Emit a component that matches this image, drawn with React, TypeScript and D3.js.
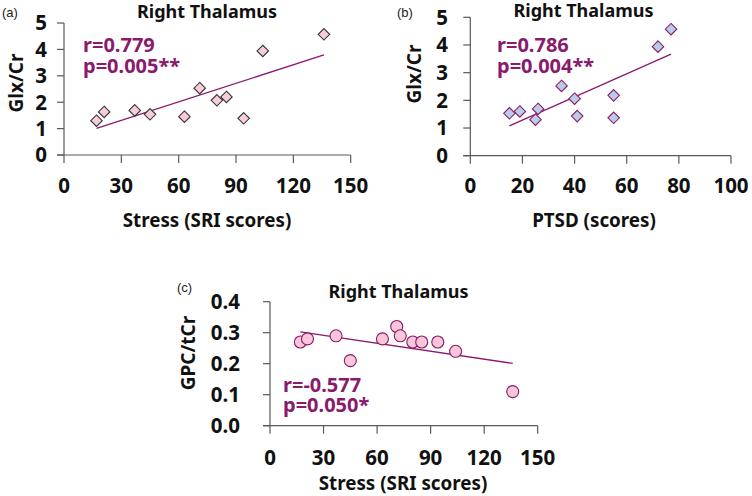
import React from "react";
import * as d3 from "d3";

// ---- Data ----
const stressA = [17, 21, 37, 45, 63, 71, 80, 85, 94, 104, 136];
const glxA = [1.3, 1.63, 1.69, 1.54, 1.45, 2.53, 2.07, 2.2, 1.39, 3.94, 4.57];
const fitA = [[17, 1.01], [136, 3.79]];

const ptsdB = [15, 19, 25, 26, 35, 40, 41, 55, 55, 72, 77];
const glxB = [1.53, 1.6, 1.3, 1.69, 2.52, 2.06, 1.43, 2.18, 1.37, 3.94, 4.57];
const fitB = [[15, 1.08], [77, 3.67]];

const stressC = [17, 21, 37, 45, 63, 71, 73, 80, 85, 94, 104, 136];
const gpcC = [0.27, 0.28, 0.29, 0.21, 0.28, 0.32, 0.29, 0.27, 0.27, 0.27, 0.24, 0.11];
const fitC = [[17, 0.303], [136, 0.201]];

const xTicksStress = [0, 30, 60, 90, 120, 150];
const xTicksPtsd = [0, 20, 40, 60, 80, 100];
const yTicksGlx = [0, 1, 2, 3, 4, 5];
const yTicksGpc = [0, 0.1, 0.2, 0.3, 0.4];

const FONT = "'Noto Sans', 'Open Sans', sans-serif";
const PURPLE = "#8a1a6b";
const AXIS = "#595959";

type PanelProps = {
  letter: string;
  letterX: number;
  letterY: number;
  xs: number[];
  ys: number[];
  fit: number[][];
  xDomain: [number, number];
  yDomain: [number, number];
  xRange: [number, number];
  yRange: [number, number];
  xTicks: number[];
  yTicks: number[];
  yFmt: (v: number) => string;
  yTickRight: number;
  xTickBase: number;
  xLabel: string;
  xLabelX: number;
  xLabelY: number;
  yLabel: string;
  yLabelX: number;
  yLabelY: number;
  titleX: number;
  titleY: number;
  statX: number;
  statY1: number;
  statY2: number;
  r: string;
  p: string;
  marker: "diamondPink" | "diamondBlue" | "circle";
};

function Panel(props: PanelProps) {
  const x = d3.scaleLinear().domain(props.xDomain).range(props.xRange);
  const y = d3.scaleLinear().domain(props.yDomain).range(props.yRange);
  const line = d3
    .line<number[]>()
    .x((d) => x(d[0]))
    .y((d) => y(d[1]));
  const [x0, x1] = props.xRange;
  const [yb, yt] = props.yRange;
  const tick = 7;
  const diamond = d3.symbol().type(d3.symbolDiamond2).size(84)();
  return (
    <g>
      <text x={props.letterX} y={props.letterY} fontFamily="Arial, 'Liberation Sans', sans-serif" fontSize={13} fill="#222">
        {props.letter}
      </text>
      <text x={props.titleX} y={props.titleY} textAnchor="middle" fontFamily={FONT} fontWeight="bold" fontSize={18} fill="#111">
        Right Thalamus
      </text>
      {/* axes */}
      <line x1={x0} x2={x0} y1={yt} y2={yb} stroke={AXIS} strokeWidth={1.2} />
      <line x1={x0 - tick} x2={x1} y1={yb} y2={yb} stroke={AXIS} strokeWidth={1.2} />
      {props.yTicks.map((t) => (
        <g key={"y" + t}>
          <line x1={x0 - tick} x2={x0} y1={y(t)} y2={y(t)} stroke={AXIS} strokeWidth={1.2} />
          <text x={props.yTickRight} y={y(t)} dy="0.36em" textAnchor="end" fontFamily={FONT} fontWeight="bold" fontSize={20.5} fill="#111">
            {props.yFmt(t)}
          </text>
        </g>
      ))}
      {props.xTicks.map((t) => (
        <g key={"x" + t}>
          <line x1={x(t)} x2={x(t)} y1={yb} y2={yb + tick + 1} stroke={AXIS} strokeWidth={1.2} />
          <text x={x(t)} y={props.xTickBase} textAnchor="middle" fontFamily={FONT} fontWeight="bold" fontSize={20.5} fill="#111">
            {t}
          </text>
        </g>
      ))}
      <text x={props.xLabelX} y={props.xLabelY} textAnchor="middle" fontFamily={FONT} fontWeight="bold" fontSize={18.8} fill="#111">
        {props.xLabel}
      </text>
      <text
        transform={`translate(${props.yLabelX},${props.yLabelY}) rotate(-90)`}
        textAnchor="middle"
        dy="0.35em"
        fontFamily={FONT}
        fontWeight="bold"
        fontSize={19}
        fill="#111"
      >
        {props.yLabel}
      </text>
      <path d={line(props.fit) || ""} stroke={PURPLE} strokeWidth={1.3} fill="none" />
      {props.xs.map((v, i) => {
        const cx = x(v);
        const cy = y(props.ys[i]);
        if (props.marker === "circle")
          return <circle key={i} cx={cx} cy={cy} r={6} fill="#f7c6d9" stroke={PURPLE} strokeWidth={1.1} />;
        return (
          <path
            key={i}
            d={diamond || ""}
            transform={`translate(${cx},${cy})`}
            fill={props.marker === "diamondPink" ? "#f9cdd8" : "#b8cde6"}
            stroke={props.marker === "diamondPink" ? "#333" : PURPLE}
            strokeWidth={1.1}
          />
        );
      })}
      <text x={props.statX} y={props.statY1} fontFamily={FONT} fontWeight="bold" fontSize={20} fill={PURPLE}>
        {props.r}
      </text>
      <text x={props.statX} y={props.statY2} fontFamily={FONT} fontWeight="bold" fontSize={20} fill={PURPLE}>
        {props.p}
      </text>
    </g>
  );
}

export default function App() {
  const f0 = (v: number) => d3.format("d")(v);
  const f1 = (v: number) => d3.format(".1f")(v);
  return (
    <svg width={752} height={496} style={{ position: "absolute", left: 0, top: 0, background: "#fff" }}>
      <rect width={752} height={496} fill="#fff" />
      <Panel
        letter="(a)" letterX={2} letterY={17}
        xs={stressA} ys={glxA} fit={fitA}
        xDomain={[0, 150]} yDomain={[0, 5]} xRange={[64, 350.7]} yRange={[155, 23]}
        xTicks={xTicksStress} yTicks={yTicksGlx} yFmt={f0} yTickRight={47} xTickBase={193}
        xLabel="Stress (SRI scores)" xLabelX={207} xLabelY={227}
        yLabel="Glx/Cr" yLabelX={16} yLabelY={83}
        titleX={207} titleY={18}
        statX={83} statY1={52} statY2={73}
        r="r=0.779" p="p=0.005**" marker="diamondPink"
      />
      <Panel
        letter="(b)" letterX={397} letterY={17}
        xs={ptsdB} ys={glxB} fit={fitB}
        xDomain={[0, 100]} yDomain={[0, 5]} xRange={[470.3, 731]} yRange={[155.7, 17.3]}
        xTicks={xTicksPtsd} yTicks={yTicksGlx} yFmt={f0} yTickRight={448} xTickBase={193}
        xLabel="PTSD (scores)" xLabelX={594} xLabelY={227}
        yLabel="Glx/Cr" yLabelX={414} yLabelY={74}
        titleX={583.5} titleY={17}
        statX={497} statY1={52} statY2={73}
        r="r=0.786" p="p=0.004**" marker="diamondBlue"
      />
      <Panel
        letter="(c)" letterX={177} letterY={292}
        xs={stressC} ys={gpcC} fit={fitC}
        xDomain={[0, 150]} yDomain={[0, 0.4]} xRange={[270, 537.7]} yRange={[425.7, 301.7]}
        xTicks={xTicksStress} yTicks={yTicksGpc} yFmt={f1} yTickRight={240} xTickBase={465}
        xLabel="Stress (SRI scores)" xLabelX={403} xLabelY={490}
        yLabel="GPC/tCr" yLabelX={188} yLabelY={353}
        titleX={398.5} titleY={298}
        statX={283} statY1={391.5} statY2={412}
        r="r=-0.577" p="p=0.050*" marker="circle"
      />
    </svg>
  );
}
